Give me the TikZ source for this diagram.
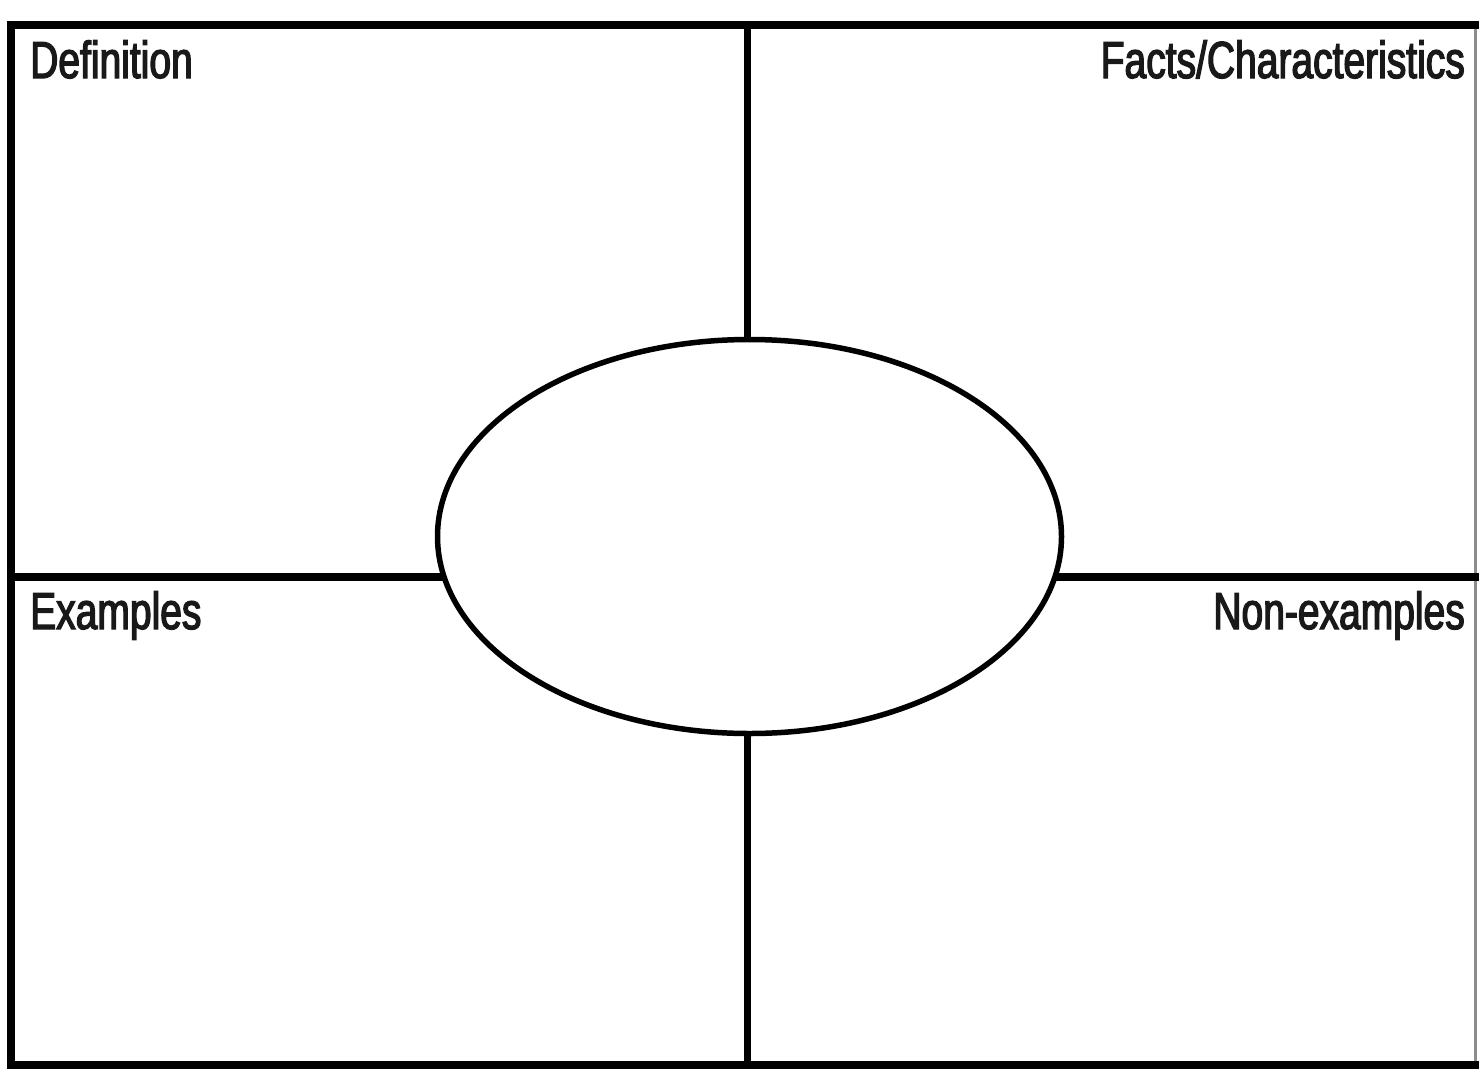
\documentclass[tikz,border=0pt]{standalone}
\usepackage{fontspec}
\usetikzlibrary{shapes.geometric}
\newfontfamily\condfont[FakeStretch=0.75,FakeBold=2.5]{Liberation Sans}
\tikzset{
  frameline/.style={line width=8pt, black},
  divline/.style={line width=7pt, black},
  label/.style={inner sep=0pt, font=\condfont\fontsize{52}{52}\selectfont, text=black!90},
  oval/.style={ellipse, draw=black, line width=5.5pt, fill=white, minimum width=624pt, minimum height=394pt, inner sep=0pt}
}
\begin{document}
\begin{tikzpicture}[x=1pt,y=-1pt]
\useasboundingbox[fill=white] (0,0) rectangle (1479,1068);
% frame corners
\coordinate (tl) at (11,25);
\coordinate (tr) at (1482,25);
\coordinate (bl) at (11,1065);
\coordinate (br) at (1482,1065);
\coordinate (rt) at (1475,25);
\coordinate (rb) at (1475,1065);
\coordinate (vt) at (747,25);
\coordinate (vb) at (747,1065);
\coordinate (hl) at (11,577);
\coordinate (hr) at (1482,577);
% right edge (faint)
\draw[line width=3pt, black!45] (rt) -- (rb);
% dividing lines
\draw[divline] (vt) -- (vb);
\draw[line width=8pt] (hl) -- (hr);
% outer frame
\draw[frameline] (tr) -- (tl) -- (bl) -- (br);
% central oval
\node[oval] (c) at (749.5,536.5) {};
% labels
\node[label, anchor=base west] (def) at (30,78) {Definition};
\node[label, anchor=base east] (facts) at (1465,78) {Facts/Characteristics};
\node[label, anchor=base west] (ex) at (30,629) {Examples};
\node[label, anchor=base east] (nonex) at (1465,629) {Non-examples};
\end{tikzpicture}
\end{document}
